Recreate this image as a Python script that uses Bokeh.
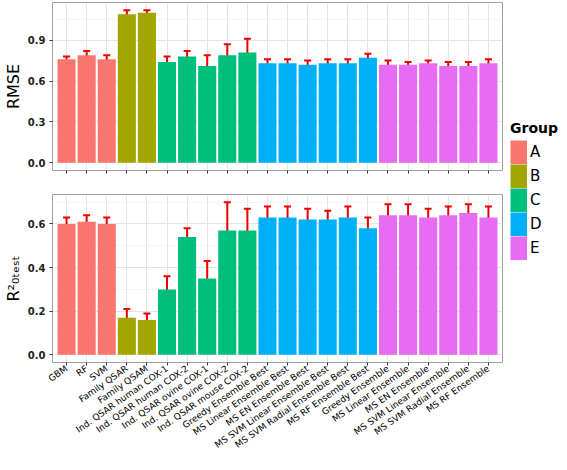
import math
from bokeh.plotting import figure
from bokeh.models import (ColumnDataSource, FactorRange, Range1d, FixedTicker,
                          Whisker, TeeHead, Legend, LegendItem, NumeralTickFormatter,
                          CustomJSTickFormatter)
from bokeh.layouts import row, column
from bokeh.embed import file_html
from bokeh.resources import INLINE

# ---------------- data ----------------
models = ["GBM", "RF", "SVM", "Family QSAR", "Family QSAM",
          "Ind. QSAR human COX-1", "Ind. QSAR human COX-2", "Ind. QSAR ovine COX-1",
          "Ind. QSAR ovine COX-2", "Ind. QSAR mouse COX-2",
          "Greedy Ensemble Best", "MS Linear Ensemble Best", "MS EN Ensemble Best",
          "MS SVM Linear Ensemble Best", "MS SVM Radial Ensemble Best", "MS RF Ensemble Best",
          "Greedy Ensemble", "MS Linear Ensemble", "MS EN Ensemble",
          "MS SVM Linear Ensemble", "MS SVM Radial Ensemble", "MS RF Ensemble"]
groups = ["A", "A", "A", "B", "B", "C", "C", "C", "C", "C",
          "D", "D", "D", "D", "D", "D", "E", "E", "E", "E", "E", "E"]

rmse = [0.76, 0.79, 0.76, 1.09, 1.10, 0.74, 0.78, 0.71, 0.79, 0.81, 0.73,
        0.73, 0.72, 0.73, 0.73, 0.77, 0.72, 0.72, 0.73, 0.71, 0.71, 0.73]
rmse_lo = [0.74, 0.76, 0.73, 1.06, 1.08, 0.70, 0.74, 0.63, 0.71, 0.71, 0.70,
           0.70, 0.69, 0.70, 0.70, 0.74, 0.69, 0.70, 0.71, 0.68, 0.68, 0.70]
rmse_hi = [0.78, 0.82, 0.79, 1.12, 1.12, 0.78, 0.82, 0.79, 0.87, 0.91, 0.76,
           0.76, 0.75, 0.76, 0.76, 0.80, 0.75, 0.74, 0.75, 0.74, 0.74, 0.76]

r2 = [0.60, 0.61, 0.60, 0.17, 0.16, 0.30, 0.54, 0.35, 0.57, 0.57, 0.63,
      0.63, 0.62, 0.62, 0.63, 0.58, 0.64, 0.64, 0.63, 0.64, 0.65, 0.63]
r2_lo = [0.57, 0.58, 0.57, 0.13, 0.13, 0.24, 0.50, 0.27, 0.44, 0.47, 0.58,
         0.58, 0.57, 0.58, 0.58, 0.53, 0.59, 0.59, 0.59, 0.60, 0.61, 0.58]
r2_hi = [0.63, 0.64, 0.63, 0.21, 0.19, 0.36, 0.58, 0.43, 0.70, 0.67, 0.68,
         0.68, 0.67, 0.66, 0.68, 0.63, 0.69, 0.69, 0.67, 0.68, 0.69, 0.68]

group_names = ["A", "B", "C", "D", "E"]
group_colors = ["#F8766D", "#A3A500", "#00BF7D", "#00B0F6", "#E76BF3"]

rmse_ticks = [0.0, 0.3, 0.6, 0.9]
rmse_minor = [0.15, 0.45, 0.75, 1.05]
r2_ticks = [0.0, 0.2, 0.4, 0.6]
r2_minor = [0.1, 0.3, 0.5, 0.7]

# ---------------- layout constants ----------------
FW = 450
FH = 168
ML = 40
FONT = "DejaVu Sans"

cmap = dict(zip(group_names, group_colors))
colors = [cmap[g] for g in groups]

xr = FactorRange(factors=models, range_padding=0.2, range_padding_units="absolute")


def panel(vals, lo, hi, yr, ticks, minor, ylabel, show_labels, bt, bb):
    src = ColumnDataSource(dict(model=models, val=vals, lo=lo, hi=hi, color=colors))
    p = figure(x_range=xr, y_range=Range1d(*yr), frame_width=FW, frame_height=FH,
               output_backend="svg", toolbar_location=None,
               min_border_left=ML, min_border_right=4, min_border_top=bt, min_border_bottom=bb,
               background_fill_color="white", border_fill_color="white")
    p.vbar(x="model", top="val", width=0.9, source=src, fill_color="color", line_color=None)
    w = Whisker(base="model", upper="hi", lower="lo", source=src,
                line_color="#EE0000", line_width=2,
                upper_head=TeeHead(size=7, line_color="#EE0000", line_width=2),
                lower_head=TeeHead(size=7, line_color="#EE0000", line_width=2))
    p.add_layout(w)

    p.outline_line_color = "#A0A0A0"
    p.outline_line_width = 1

    p.xgrid.grid_line_color = "#E4E4E4"
    p.xgrid.grid_line_width = 1
    p.ygrid.grid_line_color = "#E4E4E4"
    p.ygrid.minor_grid_line_color = "#F0F0F0"
    p.ygrid.minor_grid_line_width = 0.7

    p.yaxis.ticker = FixedTicker(ticks=ticks, minor_ticks=minor)
    p.yaxis.formatter = NumeralTickFormatter(format="0.0")
    p.yaxis.major_label_text_font = FONT
    p.yaxis.major_label_text_font_size = "10px"
    p.yaxis.major_label_text_font_style = "bold"
    p.yaxis.major_label_text_color = "#222222"
    p.yaxis.major_label_standoff = 3
    p.yaxis.axis_label = ylabel
    p.yaxis.axis_label_text_font = FONT
    p.yaxis.axis_label_text_font_size = "16px"
    p.yaxis.axis_label_text_font_style = "normal"
    p.yaxis.axis_label_text_color = "black"
    p.yaxis.axis_label_standoff = 2

    for ax in (p.xaxis, p.yaxis):
        ax.axis_line_color = None
        ax.major_tick_out = 3
        ax.major_tick_in = 0
        ax.major_tick_line_color = "#333333"
        ax.minor_tick_line_color = None

    if show_labels:
        p.xaxis.major_label_orientation = math.radians(35)
        p.xaxis.major_label_text_font = FONT
        p.xaxis.major_label_text_font_size = "9px"
        p.xaxis.major_label_text_color = "black"
        p.xaxis.major_label_standoff = 2
    else:
        p.xaxis.formatter = CustomJSTickFormatter(code="return '';")
        p.xaxis.major_label_standoff = 0
    return p


top = panel(rmse, rmse_lo, rmse_hi, (-0.056, 1.176), rmse_ticks, rmse_minor,
            "RMSE", False, 2, 12)
bottom = panel(r2, r2_lo, r2_hi, (-0.035, 0.735), r2_ticks, r2_minor,
               "R²₀ₜₑₛₜ", True, 12, 0)

# ---------------- legend panel ----------------
LH = 450
lf = figure(width=55, height=LH, x_range=(0, 1), y_range=(0, 1),
            output_backend="svg", toolbar_location=None, min_border=0,
            x_axis_type=None, y_axis_type=None, outline_line_color=None)
lf.grid.visible = False
items = []
for g, c in zip(group_names, group_colors):
    # keys only: the line lies outside the visible range, only its legend swatch shows
    r = lf.line(x=[5, 6], y=[5, 6], line_color=c, line_width=24, line_cap="butt")
    items.append(LegendItem(label=g, renderers=[r]))
leg = Legend(items=items, title="Group", location=(4, 190),
             glyph_width=17, glyph_height=24, spacing=0, padding=0, margin=0,
             label_standoff=3, label_text_font=FONT, label_text_font_size="15px",
             label_text_color="black",
             title_text_font=FONT, title_text_font_size="14px", title_text_font_style="bold",
             title_text_color="black",
             title_standoff=4, border_line_color=None, background_fill_alpha=0)
lf.add_layout(leg)

layout = row(column(top, bottom), lf)

with open("out.html", "w") as f:
    f.write(file_html(layout, INLINE))
